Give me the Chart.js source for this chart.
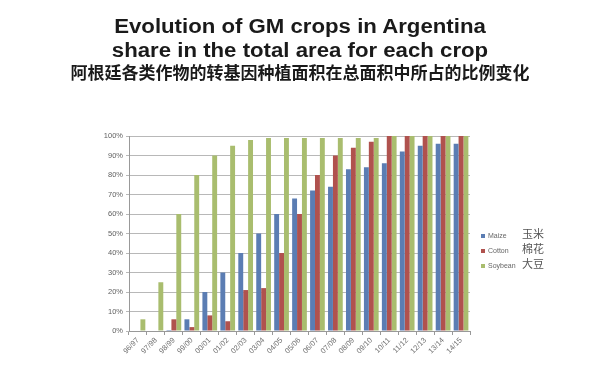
<!DOCTYPE html>
<html>
<head>
<meta charset="utf-8">
<script src="https://cdn.jsdelivr.net/npm/chart.js@4"></script>
<style>
  body { margin: 0; background: #fff; }
  #wrap { position: relative; width: 600px; height: 377px; overflow: hidden; }
  #chart { position: absolute; left: 0; top: 0; }
  .title { position: absolute; left: 0; width: 600px; text-align: center; color: #1a1a1a; white-space: nowrap; }
  .t1 { top: 15px; font: bold 20px "Liberation Sans", Arial, sans-serif; transform: scaleX(1.11); }
  .t2 { top: 39px; font: bold 20px "Liberation Sans", Arial, sans-serif; transform: scaleX(1.11); }
  .t3 { top: 59px; font: bold 17px "Noto Sans CJK SC", sans-serif; }
  #legend { position: absolute; left: 481px; top: 225px; font: 7px "Liberation Sans", Arial, sans-serif; color: #666; }
  #legend div { height: 15px; line-height: 14px; white-space: nowrap; }
  #legend span.sw { display: inline-block; width: 4px; height: 4px; margin-right: 3px; vertical-align: middle; }
  #legend span.en { display: inline-block; width: 34px; }
  #legend span.zh { font: 11px "Noto Sans CJK SC", sans-serif; color: #555; }
</style>
</head>
<body>
<div id="wrap">
  <canvas id="chart" width="600" height="377"></canvas>
  <div class="title t1">Evolution of GM crops in Argentina</div>
  <div class="title t2">share in the total area for each crop</div>
  <div class="title t3">阿根廷各类作物的转基因种植面积在总面积中所占的比例变化</div>
  <div id="legend"></div>
</div>
<script>
// Seasons on the x axis
const seasons = ['96/97', '97/98', '98/99', '99/00', '00/01', '01/02', '02/03', '03/04', '04/05', '05/06',
                 '06/07', '07/08', '08/09', '09/10', '10/11', '11/12', '12/13', '13/14', '14/15'];

// GM share of total area (%) for each crop
const maize   = [0, 0, 0.5, 6, 20, 30, 40, 50, 60, 68, 72, 74, 83, 84, 86, 92, 95, 96, 96];
const cotton  = [0, 0, 6, 2, 8, 5, 21, 22, 40, 60, 80, 90, 94, 97, 100, 100, 100, 100, 100];
const soybean = [6, 25, 60, 80, 90, 95, 98, 99, 99, 99, 99, 99, 99, 99, 100, 100, 100, 100, 100];

const yTicks = [0, 10, 20, 30, 40, 50, 60, 70, 80, 90, 100];

const seriesNames = ['Maize', 'Cotton', 'Soybean'];
const seriesZh = ['玉米', '棉花', '大豆'];
const colors = ['#5b7db3', '#b0524e', '#a9bd6e'];

// HTML legend, like the original one on the right
const legend = document.getElementById('legend');
seriesNames.forEach((name, i) => {
    const row = document.createElement('div');
    row.innerHTML = '<span class="sw" style="background:' + colors[i] + '"></span>' +
        '<span class="en">' + name + '</span><span class="zh">' + seriesZh[i] + '</span>';
    legend.appendChild(row);
});

const ctx = document.getElementById('chart').getContext('2d');
new Chart(ctx, {
    type: 'bar',
    data: {
        labels: seasons,
        datasets: [
            { label: seriesNames[0], data: maize, backgroundColor: colors[0] },
            { label: seriesNames[1], data: cotton, backgroundColor: colors[1] },
            { label: seriesNames[2], data: soybean, backgroundColor: colors[2] }
        ]
    },
    options: {
        responsive: false,
        animation: false,
        layout: { padding: { left: 100, top: 136, right: 130, bottom: 0 } },
        datasets: { bar: { barPercentage: 1.0, categoryPercentage: 0.82 } },
        plugins: {
            legend: { display: false },
            tooltip: { enabled: false }
        },
        scales: {
            x: {
                grid: { display: true, drawOnChartArea: false, tickLength: 4, color: '#999' },
                border: { color: '#999' },
                ticks: {
                    minRotation: 45, maxRotation: 45, autoSkip: false,
                    color: '#6f6f6f', font: { size: 7.5, family: 'Liberation Sans' }, padding: 1
                },
                afterFit: scale => { scale.height = 46; }
            },
            y: {
                min: 0, max: 100,
                afterBuildTicks: scale => { scale.ticks = yTicks.map(v => ({ value: v })); },
                grid: { color: '#b8b8b8', tickLength: 3 },
                border: { color: '#999' },
                ticks: {
                    color: '#5f5f5f', font: { size: 7.5, family: 'Liberation Sans' }, padding: 3,
                    callback: v => v + '%'
                },
                afterFit: scale => { scale.width = 29; }
            }
        }
    }
});
</script>
</body>
</html>
